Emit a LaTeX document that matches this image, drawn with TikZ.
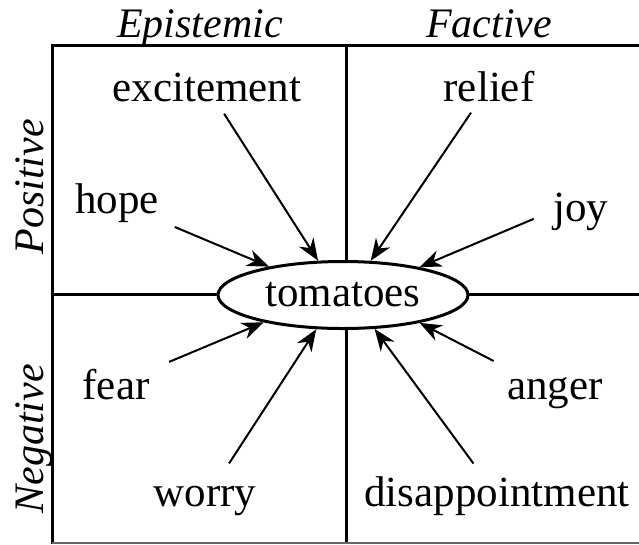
\documentclass[tikz,border=0pt]{standalone}
\usepackage{fontspec}
\setmainfont{Liberation Serif}
\usetikzlibrary{shapes.geometric,arrows.meta}
\begin{document}
\begin{tikzpicture}[x=1pt,y=-1pt,
  every node/.style={font=\fontsize{43}{48}\selectfont, inner sep=2pt},
  lbl/.style={anchor=base},
  axis/.style={anchor=base, font=\fontsize{42}{48}\selectfont\itshape},
  frame/.style={line width=3pt},
  arr/.style={line width=2pt, -{Stealth[length=22pt,width=17pt,inset=7pt]}},
  center/.style={draw, ellipse, line width=3pt, fill=white, minimum width=250pt, minimum height=67pt, inner sep=0pt}
]
\useasboundingbox (0,0) rectangle (639,544);
% frame
\draw[frame] (639,45) -- (52,45) -- (52,544);
\draw[frame] (346,45) -- (346,544);
\draw[frame] (52,294) -- (639,294);
\draw[line width=1.5pt, black!60] (52,543) -- (639,543);
% axis labels
\node[axis] (epi) at (200,37) {Epistemic};
\node[axis] (fac) at (489,37) {Factive};
\node[axis, rotate=90] (pos) at (43,187) {Positive};
\node[axis, rotate=90] (neg) at (43,439) {Negative};
% centre
\node[center] (tom) at (343,295) {tomatoes};
% labels
\node[lbl] (exc) at (207,101) {excitement};
\node[lbl] (rel) at (489,101) {relief};
\node[lbl] (hope) at (117,213) {hope};
\node[lbl] (joy) at (581,221) {joy};
\node[lbl] (fear) at (116,399) {fear};
\node[lbl] (ang) at (555,399) {anger};
\node[lbl] (wor) at (205,506) {worry};
\node[lbl] (dis) at (497,506) {disappointment};
% arrows
\draw[arr, shorten <=12pt] (exc) -- (tom.126);
\draw[arr, shorten <=11pt] (rel) -- (tom.51);
\draw[arr, shorten <=15pt] (hope) -- (tom.159);
\draw[arr, shorten <=19pt] (joy.west) -- (tom.20);
\draw[arr, shorten <=19pt] (fear) -- (tom.199);
\draw[arr, shorten <=24pt] (wor) -- (tom.232);
\draw[arr, shorten <=30pt] (ang) -- (tom.340);
\draw[arr, shorten <=13pt] (dis) -- (tom.313);
\end{tikzpicture}
\end{document}
